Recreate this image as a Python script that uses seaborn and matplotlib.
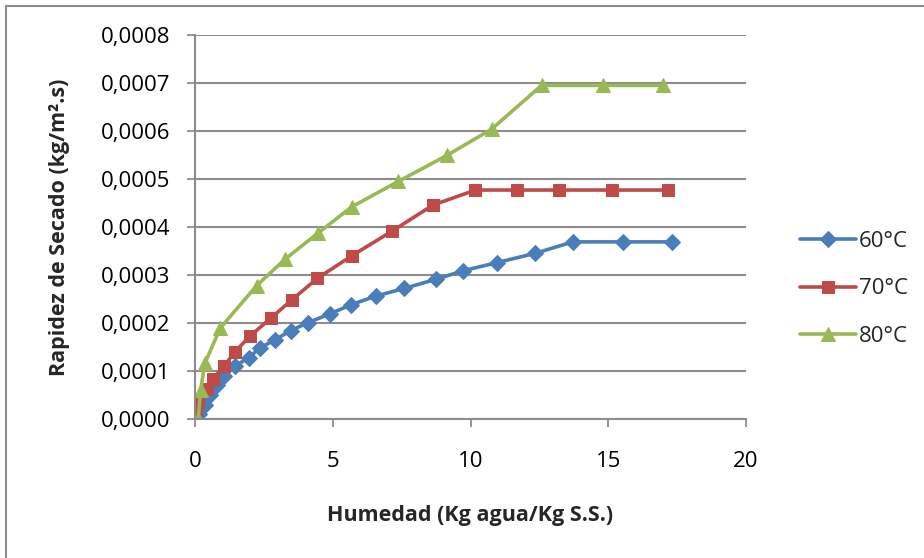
import matplotlib
matplotlib.use("Agg")
import matplotlib.pyplot as plt
import seaborn as sns
import pandas as pd
from matplotlib.patches import Rectangle
from matplotlib.ticker import FuncFormatter, MultipleLocator

# ---- data ----
x_60 = [0.15, 0.35, 0.55, 0.8, 1.05, 1.45, 1.95, 2.36, 2.90, 3.47, 4.11, 4.90, 5.66,
        6.56, 7.59, 8.74, 9.74, 10.97, 12.34, 13.71, 15.52, 17.30]
y_60 = [0.00001, 0.00003, 0.00005, 0.00007, 0.00009, 0.00011, 0.000128, 0.000148,
        0.000165, 0.000184, 0.000201, 0.000219, 0.000238, 0.000256, 0.000272,
        0.000291, 0.000309, 0.000326, 0.000345, 0.000369, 0.000369, 0.000369]

x_70 = [0.05, 0.12, 0.45, 0.65, 1.05, 1.45, 2.0, 2.75, 3.51, 4.44, 5.69, 7.14, 8.65,
        10.18, 11.68, 13.22, 15.13, 17.16]
y_70 = [0.00002, 0.000035, 0.000062, 0.000083, 0.00011, 0.00014, 0.000173, 0.00021,
        0.000248, 0.000293, 0.00034, 0.000391, 0.000446, 0.000477, 0.000477,
        0.000477, 0.000477, 0.000477]

x_80 = [0.12, 0.2, 0.36, 0.91, 2.24, 3.27, 4.48, 5.69, 7.38, 9.14, 10.77, 12.58,
        14.82, 16.98]
y_80 = [0.0, 0.00006, 0.000116, 0.000189, 0.000278, 0.000333, 0.000388, 0.000442,
        0.000495, 0.000549, 0.000604, 0.000695, 0.000695, 0.000695]

series_labels = ["60°C", "70°C", "80°C"]
x_ticks = [0, 5, 10, 15, 20]
x_label = "Humedad (Kg agua/Kg S.S.)"
y_label = "Rapidez de Secado (kg/m².s)"

colors = ["#4A7EBB", "#BE4B48", "#98B954"]
markers = ["D", "s", "^"]
msizes = [8, 8.5, 9.5]

sns.set_theme(style="white")
plt.rcParams["font.family"] = ["Open Sans", "DejaVu Sans"]

FS = 15.5
fig = plt.figure(figsize=(9.24, 5.58), dpi=100)
ax = fig.add_axes([195 / 924, 1 - 419 / 558, (746 - 195) / 924, (419 - 35) / 558])

for xs, ys, lab, c, m, ms in zip([x_60, x_70, x_80], [y_60, y_70, y_80],
                                 series_labels, colors, markers, msizes):
    df = pd.DataFrame({"x": xs, "y": ys})
    sns.lineplot(data=df, x="x", y="y", ax=ax, sort=False, color=c, lw=2.6,
                 marker=m, markersize=ms, markeredgecolor=c, label=lab,
                 estimator=None)

ax.set_xlim(0, 20)
ax.set_ylim(0, 0.0008)
ax.set_xticks(x_ticks)
ax.yaxis.set_major_locator(MultipleLocator(0.0001))
ax.yaxis.set_major_formatter(FuncFormatter(lambda v, p: f"{v:.4f}".replace(".", ",")))
ax.grid(axis="y", color="#8C8C8C", lw=1.5)
ax.grid(axis="x", visible=False)
ax.set_axisbelow(True)
for s in ["top", "right"]:
    ax.spines[s].set_visible(False)
for s in ["left", "bottom"]:
    ax.spines[s].set_color("#8C8C8C")
    ax.spines[s].set_linewidth(1.5)
ax.tick_params(axis="both", which="major", length=6, width=1.3, color="#8C8C8C",
               direction="out", labelsize=16, labelcolor="black")
ax.tick_params(axis="y", left=True, pad=12)
ax.tick_params(axis="x", bottom=True, pad=17)

ax.set_xlabel(x_label, fontsize=FS, fontweight="bold")
ax.set_ylabel(y_label, fontsize=FS, fontweight="bold")
ax.xaxis.label.set_va("center")
ax.yaxis.label.set_va("center")
ax.xaxis.set_label_coords(0.5, (419 - 516) / 384)
ax.yaxis.set_label_coords((60 - 195) / 551, 0.5)

leg = ax.legend(loc="center left", bbox_to_anchor=(800 / 924, 1 - 289 / 558),
                bbox_transform=fig.transFigure, frameon=False, borderpad=0,
                borderaxespad=0, fontsize=16, handlelength=2.5,
                labelspacing=1.2, handletextpad=0.15)

fig.patches.append(Rectangle((6 / 924, -0.05), 1.1, 1 - 6 / 558 + 0.05,
                             transform=fig.transFigure, fill=False,
                             edgecolor="#8C8C8C", lw=1.5, clip_on=False))

fig.savefig("out.png", dpi=100)
